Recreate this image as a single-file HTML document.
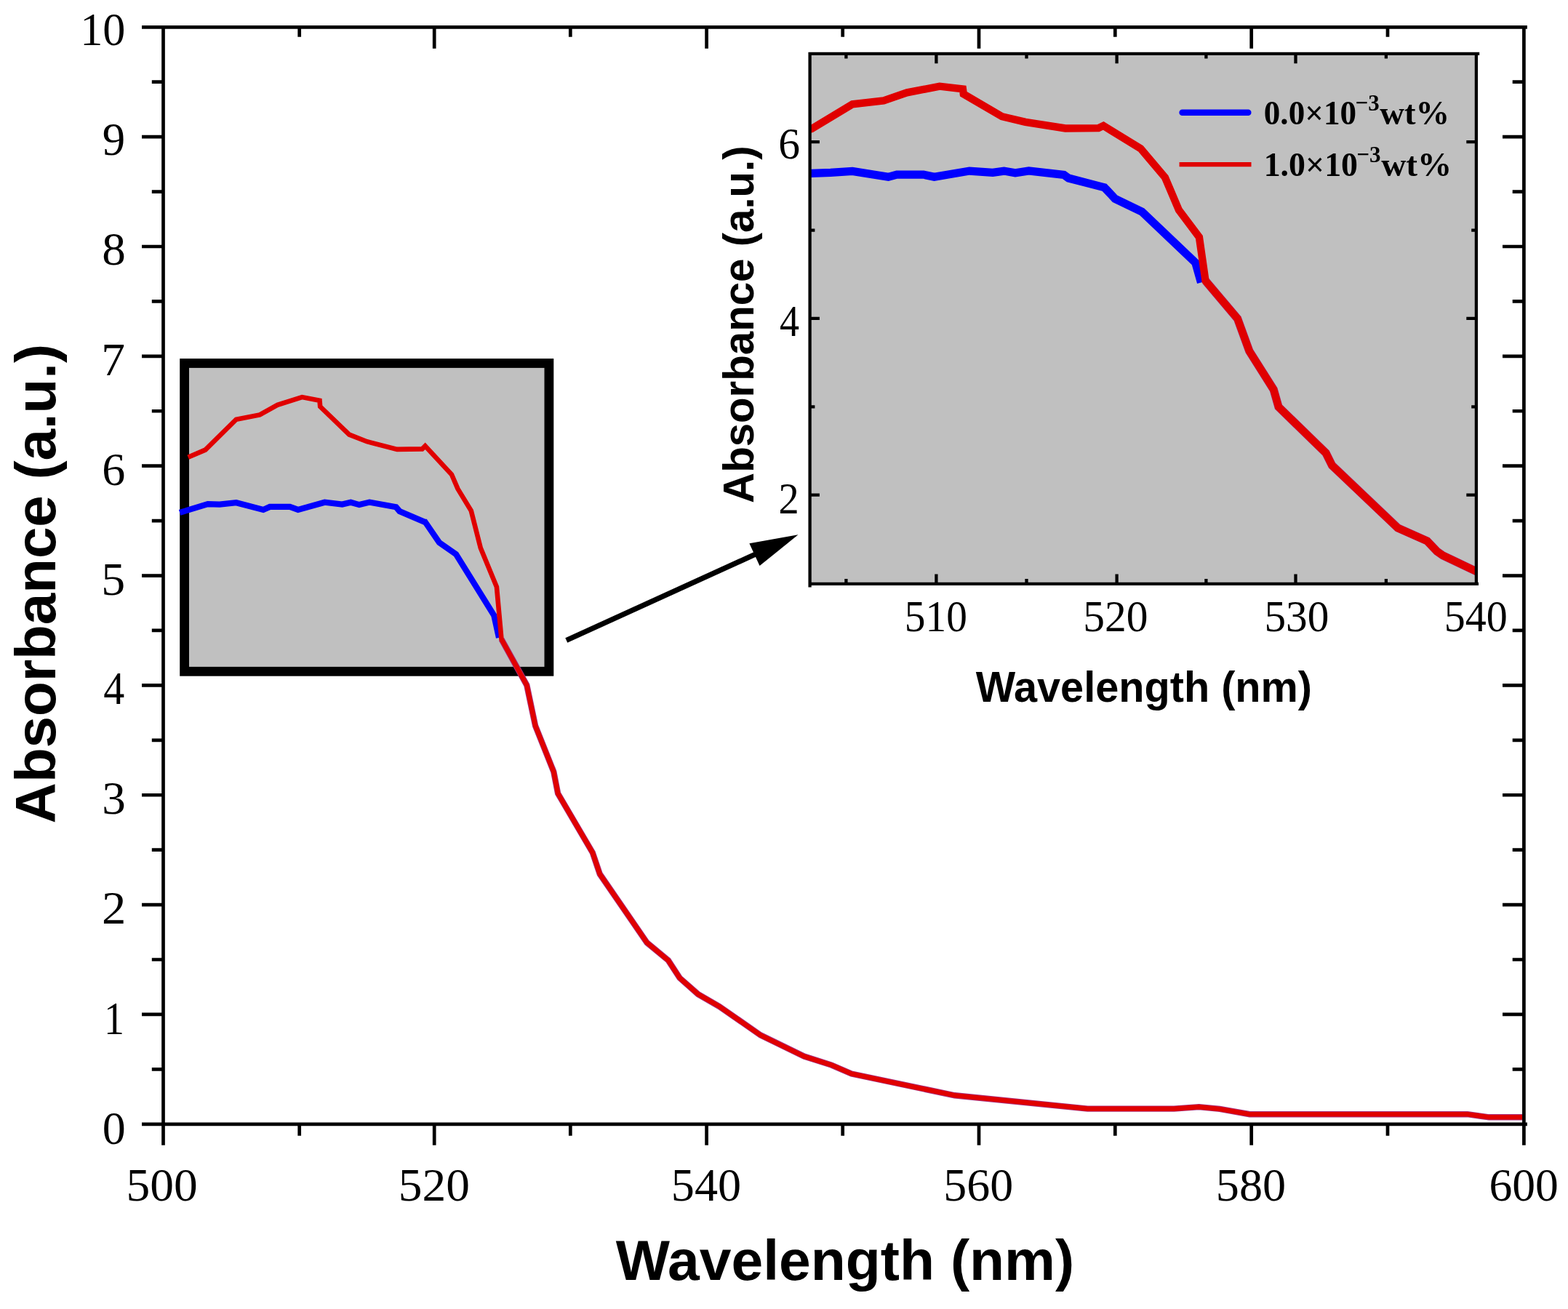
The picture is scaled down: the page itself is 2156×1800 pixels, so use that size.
<!DOCTYPE html><html><head><meta charset="utf-8"><title>Absorbance spectrum</title><style>html,body{margin:0;padding:0;background:#fff;}svg{display:block;}.tl{font-family:"Liberation Serif","Times New Roman",serif;fill:#000;}.tt{font-family:"Liberation Sans",Arial,sans-serif;font-weight:bold;fill:#000;}.lg{font-family:"Liberation Serif","Times New Roman",serif;font-weight:bold;fill:#000;}</style></head><body>
<svg width="2156" height="1800" viewBox="0 0 2156 1800">
<rect x="0" y="0" width="2156" height="1800" fill="#fff"/>
<defs><clipPath id="ic"><rect x="1113.7" y="73.8" width="915.8" height="728.2"/></clipPath><clipPath id="mc"><rect x="224.5" y="37.8" width="1870.9" height="1508.2"/></clipPath></defs>
<path d="M224.5,34.95V1574.7M2095.4,34.95V1574.7M195,37.3H2099.9M195,1545.8H2099.9M208.8,1470.38H224.5M2095.4,1470.38H2079.7M195,1394.95H224.5M2095.4,1394.95H2066M208.8,1319.52H224.5M2095.4,1319.52H2079.7M195,1244.10H224.5M2095.4,1244.10H2066M208.8,1168.67H224.5M2095.4,1168.67H2079.7M195,1093.25H224.5M2095.4,1093.25H2066M208.8,1017.82H224.5M2095.4,1017.82H2079.7M195,942.40H224.5M2095.4,942.40H2066M208.8,866.97H224.5M2095.4,866.97H2079.7M195,791.55H224.5M2095.4,791.55H2066M208.8,716.12H224.5M2095.4,716.12H2079.7M195,640.70H224.5M2095.4,640.70H2066M208.8,565.27H224.5M2095.4,565.27H2079.7M195,489.85H224.5M2095.4,489.85H2066M208.8,414.42H224.5M2095.4,414.42H2079.7M195,339.00H224.5M2095.4,339.00H2066M208.8,263.58H224.5M2095.4,263.58H2079.7M195,188.15H224.5M2095.4,188.15H2066M208.8,112.72H224.5M2095.4,112.72H2079.7M411.7,1545.8V1561.7M411.7,37.3V50.8M597.2,1545.8V1574.7M597.2,37.3V66.8M784.3,1545.8V1561.7M784.3,37.3V50.8M971.6,1545.8V1574.7M971.6,37.3V66.8M1158.7,1545.8V1561.7M1158.7,37.3V50.8M1346.0,1545.8V1574.7M1346.0,37.3V66.8M1533.3,1545.8V1561.7M1533.3,37.3V50.8M1720.7,1545.8V1574.7M1720.7,37.3V66.8M1908.0,1545.8V1561.7M1908.0,37.3V50.8" fill="none" stroke="#000" stroke-width="4.7" stroke-linecap="butt"/>
<text class="tl" x="140.76" y="1572.50" font-size="63" textLength="31.98" lengthAdjust="spacingAndGlyphs">0</text>
<text class="tl" x="142.93" y="1421.60" font-size="63" textLength="27.89" lengthAdjust="spacingAndGlyphs">1</text>
<text class="tl" x="140.09" y="1270.20" font-size="63" textLength="33.31" lengthAdjust="spacingAndGlyphs">2</text>
<text class="tl" x="140.20" y="1118.50" font-size="63" textLength="32.59" lengthAdjust="spacingAndGlyphs">3</text>
<text class="tl" x="142.15" y="967.70" font-size="63" textLength="28.97" lengthAdjust="spacingAndGlyphs">4</text>
<text class="tl" x="139.38" y="818.40" font-size="63" textLength="32.93" lengthAdjust="spacingAndGlyphs">5</text>
<text class="tl" x="140.20" y="667.00" font-size="63" textLength="32.03" lengthAdjust="spacingAndGlyphs">6</text>
<text class="tl" x="139.28" y="515.70" font-size="63" textLength="32.74" lengthAdjust="spacingAndGlyphs">7</text>
<text class="tl" x="140.22" y="364.30" font-size="63" textLength="32.57" lengthAdjust="spacingAndGlyphs">8</text>
<text class="tl" x="140.81" y="213.00" font-size="63" textLength="31.38" lengthAdjust="spacingAndGlyphs">9</text>
<text class="tl" x="110.27" y="62.00" font-size="63" textLength="62.20" lengthAdjust="spacingAndGlyphs">10</text>
<text class="tl" x="173.50" y="1650.80" font-size="63" textLength="98.30" lengthAdjust="spacingAndGlyphs">500</text>
<text class="tl" x="547.80" y="1650.80" font-size="63" textLength="98.19" lengthAdjust="spacingAndGlyphs">520</text>
<text class="tl" x="922.88" y="1650.80" font-size="63" textLength="96.37" lengthAdjust="spacingAndGlyphs">540</text>
<text class="tl" x="1297.30" y="1650.80" font-size="63" textLength="95.84" lengthAdjust="spacingAndGlyphs">560</text>
<text class="tl" x="1671.88" y="1650.80" font-size="63" textLength="96.37" lengthAdjust="spacingAndGlyphs">580</text>
<text class="tl" x="2047.42" y="1650.80" font-size="63" textLength="95.51" lengthAdjust="spacingAndGlyphs">600</text>
<text class="tt" x="846.70" y="1760.00" font-size="78.5" textLength="630.55" lengthAdjust="spacingAndGlyphs">Wavelength (nm)</text>
<text class="tt" transform="translate(76.00,0) rotate(-90)" x="-1132.49" y="0" font-size="78.5" textLength="659.44" lengthAdjust="spacingAndGlyphs">Absorbance (a.u.)</text>
<rect x="253.6" y="499.5" width="501.3" height="423.8" fill="#c0c0c0" stroke="#000" stroke-width="12.8"/>
<g fill="none" stroke-linejoin="miter" stroke-miterlimit="2.2" stroke-linecap="butt"><path stroke="#0000ff" stroke-width="8.2" d="M247.1,704.9L285.7,693.2L302.0,693.6L324.8,691.2L362.0,700.9L371.0,696.9L398.6,696.9L409.8,700.9L446.4,690.7L470.6,693.6L482.3,690.7L494.0,694.1L508.1,690.6L544.6,697.3L549.4,703.0L584.0,717.8L584.6,717.8L604.0,746.0L627.0,762.1L679.3,846.3L686.0,877.0"/><path stroke="#a8307e" stroke-width="8.4" d="M689.5,879.0L724.3,942.1L736.1,998.0L761.3,1061.2L767.1,1091.0L814.8,1172.5L824.8,1202.0L889.6,1296.3L918.9,1320.6L934.6,1344.8L960.0,1367.2L989.1,1384.0L1045.7,1423.4L1105.7,1452.6L1143.4,1464.6L1170.9,1476.6L1312.6,1506.3L1495.4,1524.6L1614.3,1524.6L1648.6,1522.1L1677.1,1524.9L1718.3,1532.2L2017.7,1532.2L2047.4,1536.3L2093.0,1536.3"/><path stroke="#e00000" stroke-width="6.6" d="M258.7,628.8L282.3,618.6L324.8,576.7L357.2,570.4L381.5,556.9L415.3,546.1L439.5,550.7L440.2,559.1L480.2,597.6L504.6,607.2L546.0,617.9L580.5,617.4L584.6,613.3L621.0,652.5L629.4,672.1L647.8,702.4L660.8,753.5L682.9,807.0L689.5,879.0L724.3,942.1L736.1,998.0L761.3,1061.2L767.1,1091.0L814.8,1172.5L824.8,1202.0L889.6,1296.3L918.9,1320.6L934.6,1344.8L960.0,1367.2L989.1,1384.0L1045.7,1423.4L1105.7,1452.6L1143.4,1464.6L1170.9,1476.6L1312.6,1506.3L1495.4,1524.6L1614.3,1524.6L1648.6,1522.1L1677.1,1524.9L1718.3,1532.2L2017.7,1532.2L2047.4,1536.3L2093.0,1536.3"/></g>
<path d="M778.8,880.5L1041.1,761.0" stroke="#000" stroke-width="7.2" fill="none"/>
<path d="M1097.5,735.3L1044.5,778.1L1030.4,747.2Z" fill="#000"/>
<rect x="1113.7" y="73.8" width="915.8" height="728.2" fill="#c0c0c0"/>
<g clip-path="url(#ic)" fill="none" stroke-linejoin="miter" stroke-miterlimit="2.2"><path stroke="#0000ff" stroke-width="11.2" d="M1069.3,246.5L1115.9,238.3L1142.0,237.4L1172.1,235.5L1221.4,243.3L1233.2,240.1L1269.7,240.1L1284.6,243.3L1333.0,235.1L1365.0,237.4L1380.5,235.1L1396.0,237.8L1414.6,235.0L1462.9,240.4L1469.3,245.0L1515.0,256.9L1518.6,257.8L1533.2,273.3L1570.2,291.1L1643.8,361.2L1651.5,388.6"/><path stroke="#a8307e" stroke-width="11.4" d="M1657.5,386.0L1701.6,438.2L1717.8,482.7L1751.2,535.7L1758.0,559.6L1823.1,622.9L1831.6,640.0L1922.0,726.0L1962.3,743.9L1975.9,758.2L1983.9,763.8L2040.0,790.5"/><path stroke="#e00000" stroke-width="10.4" d="M1084.7,185.3L1115.9,177.1L1172.1,143.4L1215.0,138.3L1247.1,127.4L1291.9,118.7L1323.9,122.4L1324.8,129.2L1377.7,160.2L1410.0,167.9L1464.8,176.5L1510.4,176.1L1517.2,172.9L1568.3,204.2L1601.9,243.9L1621.0,289.0L1648.9,326.0L1657.5,386.0L1701.6,438.2L1717.8,482.7L1751.2,535.7L1758.0,559.6L1823.1,622.9L1831.6,640.0L1922.0,726.0L1962.3,743.9L1975.9,758.2L1983.9,763.8L2040.0,790.5"/></g>
<path d="M1113.6,71.75V807.4M2029.9,71.75V804.95M1111.45,73.9H2034.2M1111.45,802.8H2033.0M1113.6,680.65H1126.9M2029.9,680.65H2016.3M1113.6,559.28H1120.4M2029.9,559.28H2023.2M1113.6,437.91H1126.9M2029.9,437.91H2016.3M1113.6,316.54H1120.4M2029.9,316.54H2023.2M1113.6,195.17H1126.9M2029.9,195.17H2016.3M1163.4,802.8V796.0M1163.4,73.9V80.6M1287.4,802.8V789.4M1287.4,73.9V87.2M1411.5,802.8V796.0M1411.5,73.9V80.6M1535.6,802.8V789.4M1535.6,73.9V87.2M1658.4,802.8V796.0M1658.4,73.9V80.6M1781.5,802.8V789.4M1781.5,73.9V87.2M1905.9,802.8V796.0M1905.9,73.9V80.6" fill="none" stroke="#000" stroke-width="4.3" stroke-linecap="butt"/>
<path d="M1625.6,154.8H1716.3" stroke="#0000ff" stroke-width="8.5" stroke-linecap="round"/>
<path d="M1621.6,226.1H1720.5" stroke="#e00000" stroke-width="6.4"/>
<text class="tl" x="1070.24" y="217.60" font-size="60.5" textLength="29.78" lengthAdjust="spacingAndGlyphs">6</text>
<text class="tl" x="1071.88" y="462.00" font-size="60.5" textLength="27.01" lengthAdjust="spacingAndGlyphs">4</text>
<text class="tl" x="1070.44" y="705.80" font-size="60.5" textLength="28.19" lengthAdjust="spacingAndGlyphs">2</text>
<text class="tl" x="1243.78" y="868.00" font-size="60.5" textLength="86.05" lengthAdjust="spacingAndGlyphs">510</text>
<text class="tl" x="1489.36" y="868.00" font-size="60.5" textLength="89.26" lengthAdjust="spacingAndGlyphs">520</text>
<text class="tl" x="1738.47" y="868.00" font-size="60.5" textLength="88.93" lengthAdjust="spacingAndGlyphs">530</text>
<text class="tl" x="1985.64" y="868.00" font-size="60.5" textLength="87.01" lengthAdjust="spacingAndGlyphs">540</text>
<text class="tt" x="1341.70" y="965.30" font-size="59" textLength="462.38" lengthAdjust="spacingAndGlyphs">Wavelength (nm)</text>
<text class="tt" transform="translate(1036.40,0) rotate(-90)" x="-691.89" y="0" font-size="58.5" textLength="491.56" lengthAdjust="spacingAndGlyphs">Absorbance (a.u.)</text>
<text class="lg" x="1737.80" y="170.50" font-size="46.5" textLength="127.32" lengthAdjust="spacingAndGlyphs">0.0×10</text>
<text class="lg" x="1863.53" y="152.00" font-size="32.5" textLength="33.14" lengthAdjust="spacingAndGlyphs">−3</text>
<text class="lg" x="1897.35" y="170.50" font-size="46.5" textLength="95.99" lengthAdjust="spacingAndGlyphs">wt%</text>
<text class="lg" x="1737.70" y="241.90" font-size="46.5" textLength="129.34" lengthAdjust="spacingAndGlyphs">1.0×10</text>
<text class="lg" x="1865.33" y="222.50" font-size="32.5" textLength="33.25" lengthAdjust="spacingAndGlyphs">−3</text>
<text class="lg" x="1899.25" y="241.90" font-size="46.5" textLength="97.04" lengthAdjust="spacingAndGlyphs">wt%</text>
</svg></body></html>
